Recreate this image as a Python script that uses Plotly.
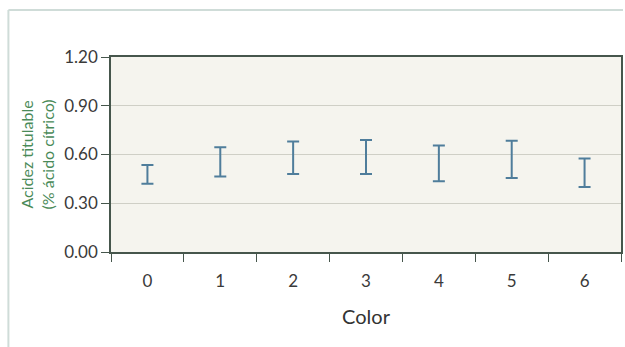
import plotly.graph_objects as go

# Titratable acidity by colour grade: lower / upper limits of each interval
categories = ["0", "1", "2", "3", "4", "5", "6"]
lower = [0.42, 0.465, 0.48, 0.48, 0.435, 0.455, 0.40]
upper = [0.535, 0.645, 0.68, 0.69, 0.655, 0.685, 0.575]
y_ticks = [0.0, 0.3, 0.6, 0.9, 1.2]
y_ticktext = ["0.00", "0.30", "0.60", "0.90", "1.20"]

center = [(lo + hi) / 2 for lo, hi in zip(lower, upper)]
half = [(hi - lo) / 2 for lo, hi in zip(lower, upper)]

W, H = 625, 347
L, R, T, B = 111, 2, 57, 95
axis_color = "#46564c"
font_family = "Lato, 'Open Sans', sans-serif"

fig = go.Figure(
    go.Scatter(
        x=categories,
        y=center,
        mode="markers",
        marker=dict(size=1, color="rgba(0,0,0,0)"),
        error_y=dict(type="data", array=half, visible=True,
                     color="#4f7d9b", thickness=2, width=6),
        hoverinfo="skip",
        showlegend=False,
    )
)

# light frame around the whole figure
pw = W - L - R
ph = H - T - B
fig.add_shape(type="line", xref="paper", yref="paper",
              x0=(8 - L) / pw, x1=(W - L) / pw,
              y0=(H - 10 - B) / ph, y1=(H - 10 - B) / ph,
              line=dict(color="#cfdcd8", width=2), layer="below")
fig.add_shape(type="line", xref="paper", yref="paper",
              x0=(8 - L) / pw, x1=(8 - L) / pw,
              y0=(H - 10 - B) / ph, y1=(0 - B) / ph,
              line=dict(color="#cfdcd8", width=2), layer="below")

fig.update_layout(
    width=W, height=H,
    margin=dict(l=L, r=R, t=T, b=B),
    paper_bgcolor="#ffffff",
    plot_bgcolor="#f5f4ee",
    font=dict(family=font_family, color="#3a3a3a"),
)

fig.update_xaxes(
    type="category",
    range=[-0.5, 6.5],
    tickson="boundaries",
    ticks="outside", ticklen=8, tickwidth=1.2, tickcolor=axis_color,
    showline=True, linecolor=axis_color, linewidth=1.5, mirror=True,
    showgrid=False,
    ticklabelstandoff=13,
    tickfont=dict(size=17, color="#3a3a3a"),
    title=dict(text="Color", font=dict(size=20, color="#333333"), standoff=20),
)

fig.update_yaxes(
    range=[0, 1.2],
    tickvals=y_ticks, ticktext=y_ticktext,
    ticks="outside", ticklen=8, tickwidth=1.2, tickcolor=axis_color,
    showline=True, linecolor=axis_color, linewidth=1.5, mirror=True,
    showgrid=True, gridcolor="#cfcfc6", gridwidth=1,
    zeroline=False,
    ticklabelstandoff=0,
    tickfont=dict(size=17, color="#3a3a3a"),
    title=dict(text="Acidez titulable<br>(% ácido cítrico)",
               font=dict(size=16, color="#4a8a58"), standoff=6),
)

fig.write_html("out.html")
